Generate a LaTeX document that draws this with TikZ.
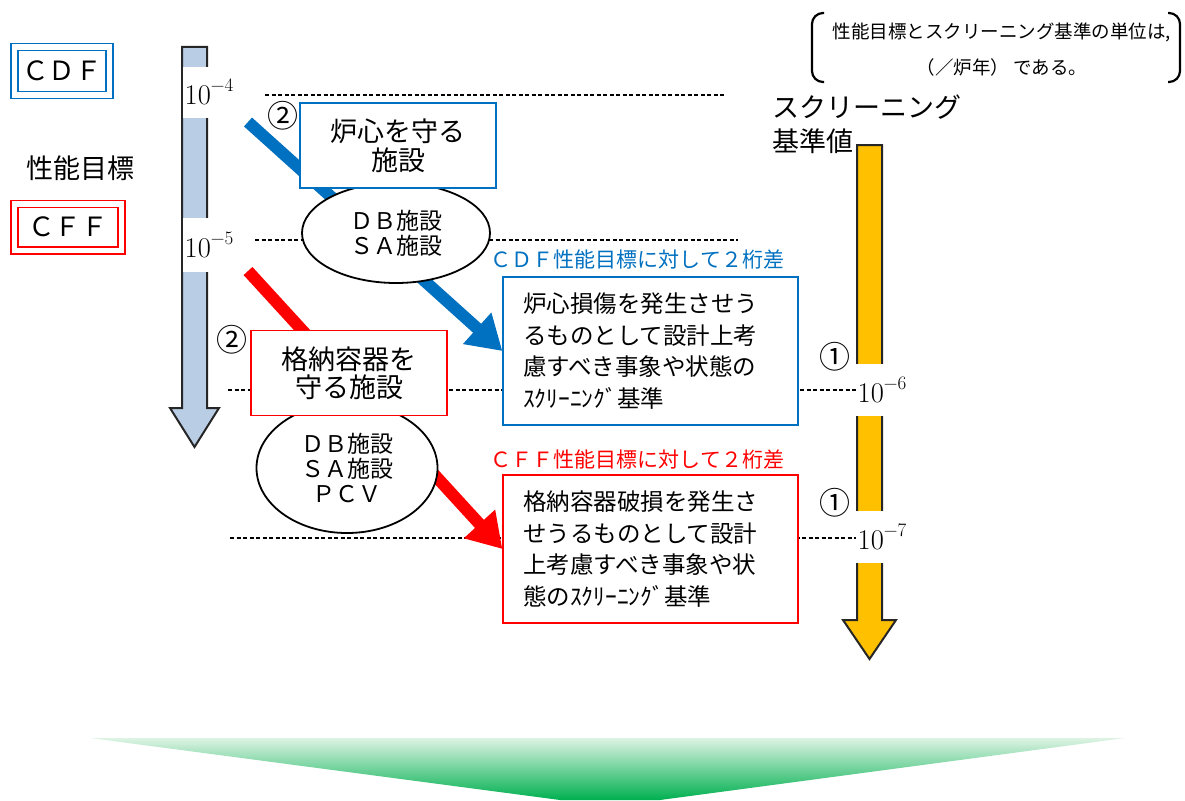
\documentclass[tikz,border=0pt]{standalone}
\usepackage{fontspec}
\usepackage{xcolor}
\usepackage{tikz}
\usetikzlibrary{arrows.meta,shapes.geometric}

\newfontfamily\jp{Noto Sans CJK JP}
\newfontfamily\lmr{Latin Modern Roman}
\newcommand{\fsz}[2]{\fontsize{#1}{#2}\selectfont}
\newcommand{\tenpow}[1]{{\lmr\fsz{28.5}{32}10\raisebox{0.45em}{\fsz{19}{21}−#1}}}

\definecolor{cdfblue}{RGB}{0,112,192}
\definecolor{cffred}{RGB}{255,0,0}
\definecolor{goalfill}{RGB}{185,205,229}
\definecolor{scrfill}{RGB}{255,192,0}
\definecolor{greenlo}{RGB}{0,176,80}
\definecolor{greenhi}{RGB}{222,243,228}

\begin{document}
\begin{tikzpicture}[x=1pt,y=-1pt,
    lbl/.style={fill=white,inner ysep=0pt,inner xsep=2pt,minimum height=#1},
    guide/.style={dash pattern=on 4pt off 2.5pt,line width=1.3pt},
    bigarrow/.style={draw=black!85,line width=2pt,line join=miter},
    framebox/.style={draw=#1,line width=1.2pt,fill=white,inner sep=0pt},
    dbell/.style={ellipse,draw,line width=1.8pt,fill=white,inner sep=0pt,align=center,font=\jp\fsz{23}{25}},
    diag/.style={line width=12pt,-{Triangle[length=34pt,width=40pt]}},
    circnum/.style={font=\jp\fsz{31}{34},inner sep=0pt}]
    \useasboundingbox (0,0) rectangle (1185,800);

    % green arrow at the bottom
    \shade[top color=greenhi,bottom color=greenlo] (90,738) -- (1125,738) -- (660,800) -- (560,800) -- cycle;

    % performance goal and screening arrows
    \draw[bigarrow,fill=goalfill] (182,47) -- (207,47) -- (207,408) -- (219,408) -- (194.5,447) -- (170,408) -- (182,408) -- cycle;
    \draw[bigarrow,fill=scrfill] (857,145) -- (882,145) -- (882,620) -- (896,620) -- (869.5,659) -- (843,620) -- (857,620) -- cycle;

    \node[lbl=51pt] (l4) at (209,92) {\tenpow{4}};
    \node[lbl=54pt] (l5) at (209,245) {\tenpow{5}};
    \node[lbl=52pt] (l6) at (882,390) {\tenpow{6}};
    \node[lbl=52pt] (l7) at (882,537) {\tenpow{7}};

    % level lines
    \draw[guide] (265,95) -- (725,95);
    \draw[guide] (255,240) -- (738,240);
    \draw[guide] (228,390) -- (l6.west |- 0,390);
    \draw[guide] (230,538) -- (l7.west |- 0,538);

    % screening criteria boxes
    \node[framebox=cdfblue,text width=255pt,inner xsep=20pt,minimum height=148pt,align=left,font=\jp\fsz{23.5}{31.5}] (scrcdf) at (650.5,351)
        {炉心損傷を発生させう\\るものとして設計上考\\慮すべき事象や状態の\\ｽｸﾘｰﾆﾝｸﾞ基準};
    \node[framebox=cffred,text width=255pt,inner xsep=20pt,minimum height=148pt,align=left,font=\jp\fsz{23.5}{31.5}] (scrcff) at (650.5,549)
        {格納容器破損を発生さ\\せうるものとして設計\\上考慮すべき事象や状\\態のｽｸﾘｰﾆﾝｸﾞ基準};
    \node[font=\jp\fsz{21}{25},text=cdfblue,inner sep=0pt] (capcdf) at (637.5,260) {ＣＤＦ性能目標に対して２桁差};
    \node[font=\jp\fsz{21}{25},text=cffred,inner sep=0pt] (capcff) at (637.5,460) {ＣＦＦ性能目標に対して２桁差};

    % two orders of magnitude
    \coordinate (cdfstart) at (248,122);
    \coordinate (cffstart) at (248,271);
    \draw[diag,cdfblue] (cdfstart) -- (scrcdf.west);
    \draw[diag,cffred] (cffstart) -- (scrcff.west);

    % facilities
    \node[dbell,minimum width=188pt,minimum height=100pt] (db1) at (396,233) {ＤＢ施設\\ＳＡ施設};
    \node[dbell,minimum width=181pt,minimum height=130pt] (db2) at (347,468) {ＤＢ施設\\ＳＡ施設\\ＰＣＶ};
    \node[framebox=cdfblue,minimum width=196pt,minimum height=85pt,align=center,font=\jp\fsz{27}{29}] (keepcore) at (398,145.5) {炉心を守る\\施設};
    \node[framebox=cffred,minimum width=196pt,minimum height=85pt,align=center,font=\jp\fsz{27}{28}] (keeppcv) at (349,373) {格納容器を\\守る施設};

    \node[circnum] (n2a) at (283,116) {②};
    \node[circnum] (n2b) at (232,340) {②};
    \node[circnum] (n1a) at (835,357) {①};
    \node[circnum] (n1b) at (835,503) {①};

    % left column
    \node[draw=cdfblue,double=white,double distance=5.5pt,line width=1.5pt,minimum width=95pt,minimum height=48pt,inner sep=0pt,font=\jp\fsz{26.5}{30}] (cdf) at (62,71) {ＣＤＦ};
    \node[font=\jp\fsz{27}{30},inner sep=0pt] (goal) at (80,168) {性能目標};
    \node[draw=cffred,double=white,double distance=5.5pt,line width=1.5pt,minimum width=107pt,minimum height=46.5pt,inner sep=0pt,font=\jp\fsz{26.5}{30}] (cff) at (68,227) {ＣＦＦ};

    % right column
    \node[anchor=west,align=left,inner sep=0pt,font=\jp\fsz{27}{34}] (scrtitle) at (772,124) {スクリーニング\\基準値};
    \node[align=center,inner sep=0pt,font=\jp\fsz{18.5}{36}] (unit) at (1002,50) {性能目標とスクリーニング基準の単位は,\\（／炉年） である。};
    \draw[line width=2.2pt,rounded corners=11pt] (824,13) -- (812,13) -- (812,82) -- (824,82);
    \draw[line width=2.2pt,rounded corners=11pt] (1168,13) -- (1180,13) -- (1180,82) -- (1168,82);
\end{tikzpicture}
\end{document}
